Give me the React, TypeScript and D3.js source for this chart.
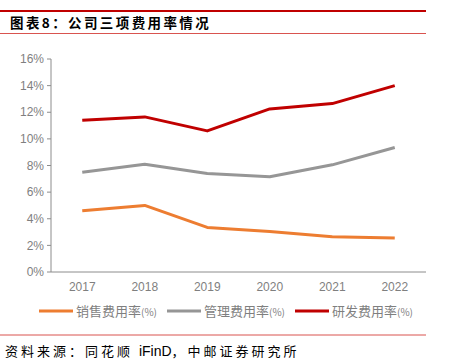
import * as d3 from "d3";
import React from "react";

const years = ["2017", "2018", "2019", "2020", "2021", "2022"];
const sales = [4.6, 5.0, 3.35, 3.05, 2.65, 2.55];
const admin = [7.5, 8.1, 7.4, 7.15, 8.05, 9.35];
const rnd = [11.4, 11.65, 10.6, 12.25, 12.65, 14.0];
const yTicks = [0, 2, 4, 6, 8, 10, 12, 14, 16];

const seriesList = [
  { name: "销售费用率", values: sales, color: "#ed7d31" },
  { name: "管理费用率", values: admin, color: "#969696" },
  { name: "研发费用率", values: rnd, color: "#c00000" },
];

const font = "'Noto Sans CJK SC', 'Noto Sans', sans-serif";

export default function App() {
  const width = 449;
  const height = 361;
  const left = 51;
  const right = 426;
  const top = 59;
  const bottom = 272;

  const x = d3.scalePoint<string>().domain(years).range([left, right]).padding(0.5);
  const y = d3.scaleLinear().domain([0, 16]).range([bottom, top]);

  const line = d3
    .line<number>()
    .x((_, i) => x(years[i]) as number)
    .y((d) => y(d));

  const legendX = [39, 167, 295];

  return (
    <div style={{ position: "absolute", left: 0, top: 0 }}>
      <svg width={width} height={height} style={{ display: "block", background: "#fff" }}>
        {/* header */}
        <line x1={0} x2={426} y1={11} y2={11} stroke="#c00000" strokeWidth={2} />
        <text x={10} y={28} fontFamily={font} fontSize={13.5} fontWeight="bold" letterSpacing={2.4} fill="#000">
          图表8：公司三项费用率情况
        </text>
        <line x1={0} x2={426} y1={33.5} y2={33.5} stroke="#d9534f" strokeWidth={1} />

        {/* y axis */}
        <line x1={left} x2={left} y1={top} y2={bottom} stroke="#8c8c8c" />
        {yTicks.map((t) => (
          <g key={t}>
            <line x1={left - 4} x2={left} y1={y(t)} y2={y(t)} stroke="#8c8c8c" />
            <text
              x={left - 7}
              y={y(t)}
              dy="0.35em"
              textAnchor="end"
              fontFamily="'Liberation Sans', Arial, sans-serif"
              fontSize={12}
              fill="#7f7f7f"
            >
              {t}%
            </text>
          </g>
        ))}
        {/* x axis */}
        <line x1={left} x2={right} y1={bottom} y2={bottom} stroke="#8c8c8c" />
        {years.map((yr) => (
          <text
            key={yr}
            x={x(yr)}
            y={bottom + 19}
            textAnchor="middle"
            fontFamily="'Liberation Sans', Arial, sans-serif"
            fontSize={12}
            fill="#7f7f7f"
          >
            {yr}
          </text>
        ))}

        {/* lines */}
        {seriesList.map((s) => (
          <path
            key={s.name}
            d={line(s.values) || ""}
            fill="none"
            stroke={s.color}
            strokeWidth={3}
            strokeLinejoin="round"
          />
        ))}

        {/* legend */}
        {seriesList.map((s, i) => (
          <g key={s.name}>
            <line x1={legendX[i]} x2={legendX[i] + 34} y1={311} y2={311} stroke={s.color} strokeWidth={3} />
            <text x={legendX[i] + 37} y={316} fontFamily={font} fontSize={13} fill="#7f7f7f">
              {s.name}
              <tspan fontSize={10}>(%)</tspan>
            </text>
          </g>
        ))}

        {/* source */}
        <line x1={0} x2={426} y1={335} y2={335} stroke="#d9534f" strokeWidth={1} />
        <text x={5} y={356} fontFamily={font} fontSize={13} fill="#000">
          <tspan letterSpacing={3}>资料来源：同花顺 </tspan>
          <tspan fontFamily="'Liberation Sans', Arial, sans-serif" fontSize={14}>iFinD</tspan>
          <tspan letterSpacing={3}>，中邮证券研究所</tspan>
        </text>
      </svg>
    </div>
  );
}
